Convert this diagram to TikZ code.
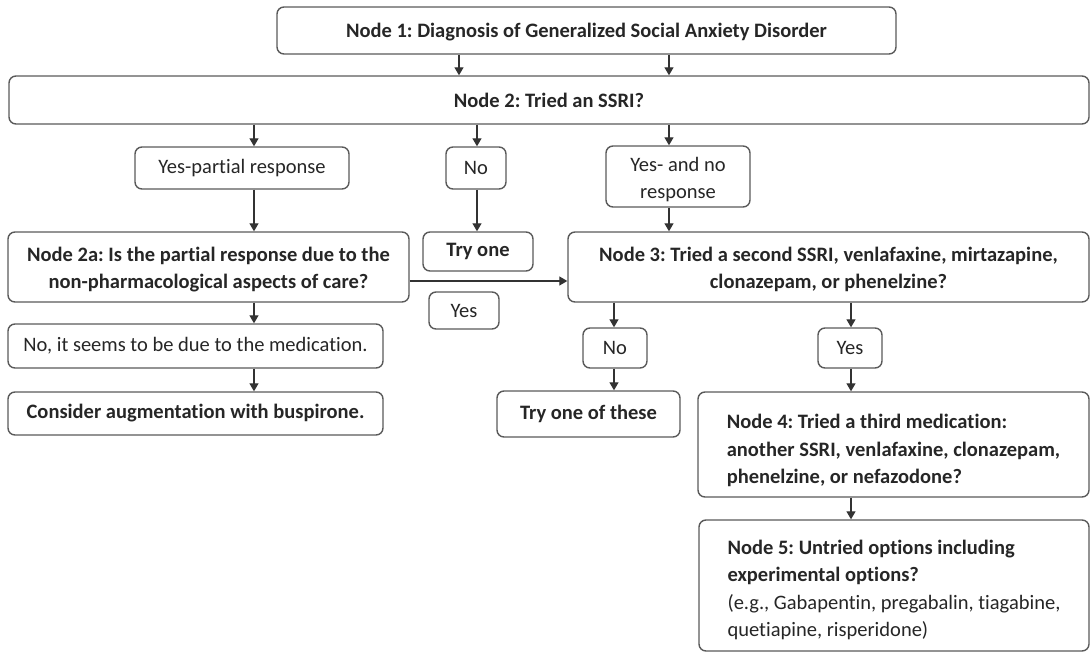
\documentclass[tikz,border=0pt]{standalone}
\usepackage{fontspec}
\setmainfont{Carlito}[Ligatures=NoCommon]
\frenchspacing
\usetikzlibrary{arrows.meta}
\definecolor{edge}{HTML}{5A5A5A}
\definecolor{ink}{HTML}{262626}
\definecolor{wire}{HTML}{333333}
\tikzset{
  box/.style={draw=edge, line width=1.4pt, rounded corners=7pt, fill=white,
    text=ink, inner sep=0pt, align=center,
    font=\fontsize{20.5}{27.5}\selectfont},
  bbox/.style={box, font=\fontsize{20.5}{27.5}\selectfont\bfseries},
  arr/.style={draw=wire, line width=1.3pt, -{Triangle[length=8pt,width=9pt]}},
}
% a taller first line pushes a centred block of text a little lower
\newcommand\toppad[1]{\rule{0pt}{#1}}
\begin{document}
\begin{tikzpicture}[x=1pt, y=-1pt]
\useasboundingbox (0,0) rectangle (1092,653);

% top of the chart
\node[bbox, minimum width=619, minimum height=47] (n1) at (586.5,30.5)
  {\toppad{17pt}Node 1: Diagnosis of Generalized Social Anxiety Disorder};
\node[bbox, minimum width=1080, minimum height=48] (n2) at (549,100)
  {Node 2: Tried an SSRI?};

% answers to node 2
\node[box, minimum width=214, minimum height=42] (yp) at (242,168)
  {Yes-partial response};
\node[box, minimum width=60, minimum height=42] (no1) at (476,168) {No};
\node[box, minimum width=144, minimum height=61] (yn) at (678,176.5)
  {\toppad{20pt}Yes- and no\\response};

% second row
\node[bbox, minimum width=401, minimum height=70] (n2a) at (208.5,267)
  {\toppad{19pt}Node 2a: Is the partial response due to the\\non-pharmacological aspects of care?};
\node[bbox, minimum width=110, minimum height=39] (tryone) at (478,251.5) {Try one};
\node[box, minimum width=70, minimum height=37] (yes1) at (464,310.5) {Yes};
\node[bbox, minimum width=521, minimum height=70] (n3) at (828.5,267)
  {\toppad{19pt}Node 3: Tried a second SSRI, venlafaxine, mirtazapine,\\clonazepam, or phenelzine?};

% partial-response branch
\node[box, minimum width=375, minimum height=44] (nomed) at (195.5,346)
  {No, it seems to be due to the medication.};
\node[bbox, minimum width=375, minimum height=43] (consider) at (195.5,413.5)
  {Consider augmentation with buspirone.};

% answers to node 3
\node[box, minimum width=64, minimum height=40] (no2) at (615,348) {No};
\node[box, minimum width=64, minimum height=40] (yes2) at (850,348) {Yes};
\node[bbox, minimum width=183, minimum height=46] (trythese) at (588.5,414)
  {Try one of these};

% later steps
\node[bbox, align=left, minimum width=391, minimum height=105] (n4) at (893.5,444.5)
  {\toppad{27pt}Node 4: Tried a third medication:\\another SSRI, venlafaxine, clonazepam,\\phenelzine, or nefazodone?};
\node[box, align=left, minimum width=390, minimum height=131] (n5) at (894,585.5)
  {\toppad{23pt}\textbf{Node 5: Untried options including}\\\textbf{experimental options?}\\
   (e.g., Gabapentin, pregabalin, tiagabine,\\quetiapine, risperidone)};

% connectors
\draw[arr] (n1.south -| 459,0) -- (n2.north -| 459,0);
\draw[arr] (n1.south -| 669,0) -- (n2.north -| 669,0);
\draw[arr] (n2.south -| 254,0) -- (yp.north -| 254,0);
\draw[arr] (n2.south -| 477,0) -- (no1.north -| 477,0);
\draw[arr] (n2.south -| 669,0) -- (yn.north -| 669,0);
\draw[arr] (yp.south -| 254,0) -- (n2a.north -| 254,0);
\draw[arr] (no1.south -| 477,0) -- (tryone.north -| 477,0);
\draw[arr] (yn.south -| 669,0) -- (n3.north -| 669,0);
\draw[arr] (n2a.east |- 0,281) -- (n3.west |- 0,281);
\draw[arr] (n2a.south -| 254,0) -- (nomed.north -| 254,0);
\draw[arr] (nomed.south -| 254,0) -- (consider.north -| 254,0);
\draw[arr] (n3.south -| 614,0) -- (no2.north -| 614,0);
\draw[arr] (n3.south -| 851,0) -- (yes2.north -| 851,0);
\draw[arr] (no2.south -| 614,0) -- (trythese.north -| 614,0);
\draw[arr] (yes2.south -| 851,0) -- (n4.north -| 851,0);
\draw[arr] (n4.south -| 851,0) -- (n5.north -| 851,0);
\end{tikzpicture}
\end{document}
